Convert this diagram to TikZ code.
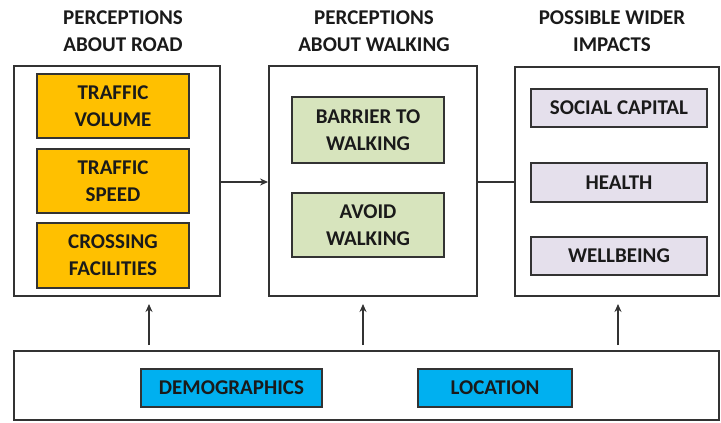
\documentclass[tikz,border=0pt]{standalone}
\usepackage{fontspec}
\setmainfont{Carlito}
\usetikzlibrary{arrows.meta}
\definecolor{yel}{HTML}{FFC000}
\definecolor{grn}{HTML}{D7E4BD}
\definecolor{lav}{HTML}{E5E0EC}
\definecolor{blu}{HTML}{00B0F0}
\definecolor{edge}{HTML}{333333}
\definecolor{txt}{HTML}{1A1A1A}
\tikzset{
  outerbox/.style={draw=edge, line width=1.9pt, fill=white, inner sep=0pt},
  innerbox/.style={draw=edge, line width=1.7pt, inner sep=0pt, align=center,
     text=txt, font=\fontsize{21}{27}\selectfont\bfseries},
  title/.style={align=center, text=txt, font=\fontsize{21}{27}\selectfont\bfseries},
  conn/.style={draw=edge, line width=1.2pt},
  arr/.style={conn, -{Stealth[length=8pt,width=7pt]}}
}
\begin{document}
\begin{tikzpicture}[x=1pt,y=-1pt]
\useasboundingbox (0,0) rectangle (721,423);
% titles
\node[title] (t1) at (123,31.5) {PERCEPTIONS\\ABOUT ROAD};
\node[title] (t2) at (374,31.5) {PERCEPTIONS\\ABOUT WALKING};
\node[title] (t3) at (612,31.5) {POSSIBLE WIDER\\IMPACTS};
% outer boxes
\node[outerbox, minimum width=206pt, minimum height=230pt] (b1) at (117,181) {};
\node[outerbox, minimum width=208pt, minimum height=230pt] (b2) at (373,181) {};
\node[outerbox, minimum width=204pt, minimum height=229pt] (b3) at (617,181.5) {};
\node[outerbox, minimum width=705pt, minimum height=69pt] (b4) at (366.5,385.5) {};
% yellow
\node[innerbox, fill=yel, minimum width=152pt, minimum height=64pt] (y1) at (113,106) {TRAFFIC\\VOLUME};
\node[innerbox, fill=yel, minimum width=152pt, minimum height=64pt] (y2) at (113,181) {TRAFFIC\\SPEED};
\node[innerbox, fill=yel, minimum width=152pt, minimum height=65pt] (y3) at (113,255.5) {CROSSING\\FACILITIES};
% green
\node[innerbox, fill=grn, minimum width=152pt, minimum height=66pt] (g1) at (368,130) {BARRIER TO\\WALKING};
\node[innerbox, fill=grn, minimum width=152pt, minimum height=64pt] (g2) at (368,225) {AVOID\\WALKING};
% lavender
\node[innerbox, fill=lav, minimum width=176pt, minimum height=38pt] (l1) at (619,108) {SOCIAL CAPITAL};
\node[innerbox, fill=lav, minimum width=176pt, minimum height=39pt] (l2) at (619,182.5) {HEALTH};
\node[innerbox, fill=lav, minimum width=176pt, minimum height=38pt] (l3) at (619,256) {WELLBEING};
% blue
\node[innerbox, fill=blu, minimum width=181pt, minimum height=38pt] (d1) at (231.5,388) {DEMOGRAPHICS};
\node[innerbox, fill=blu, minimum width=154pt, minimum height=38pt] (d2) at (495,388) {LOCATION};
% connectors
\draw[arr] (b1.east |- 0,182) -- (b2.west |- 0,182);
\draw[conn] (b2.east |- 0,182) -- (b3.west |- 0,182);
\coordinate (a1s) at (149,345); \coordinate (a1e) at (149,304);
\coordinate (a2s) at (363,345); \coordinate (a2e) at (363,304);
\coordinate (a3s) at (618,345); \coordinate (a3e) at (618,304);
\draw[arr] (a1s) -- (a1e);
\draw[arr] (a2s) -- (a2e);
\draw[arr] (a3s) -- (a3e);
\end{tikzpicture}
\end{document}
